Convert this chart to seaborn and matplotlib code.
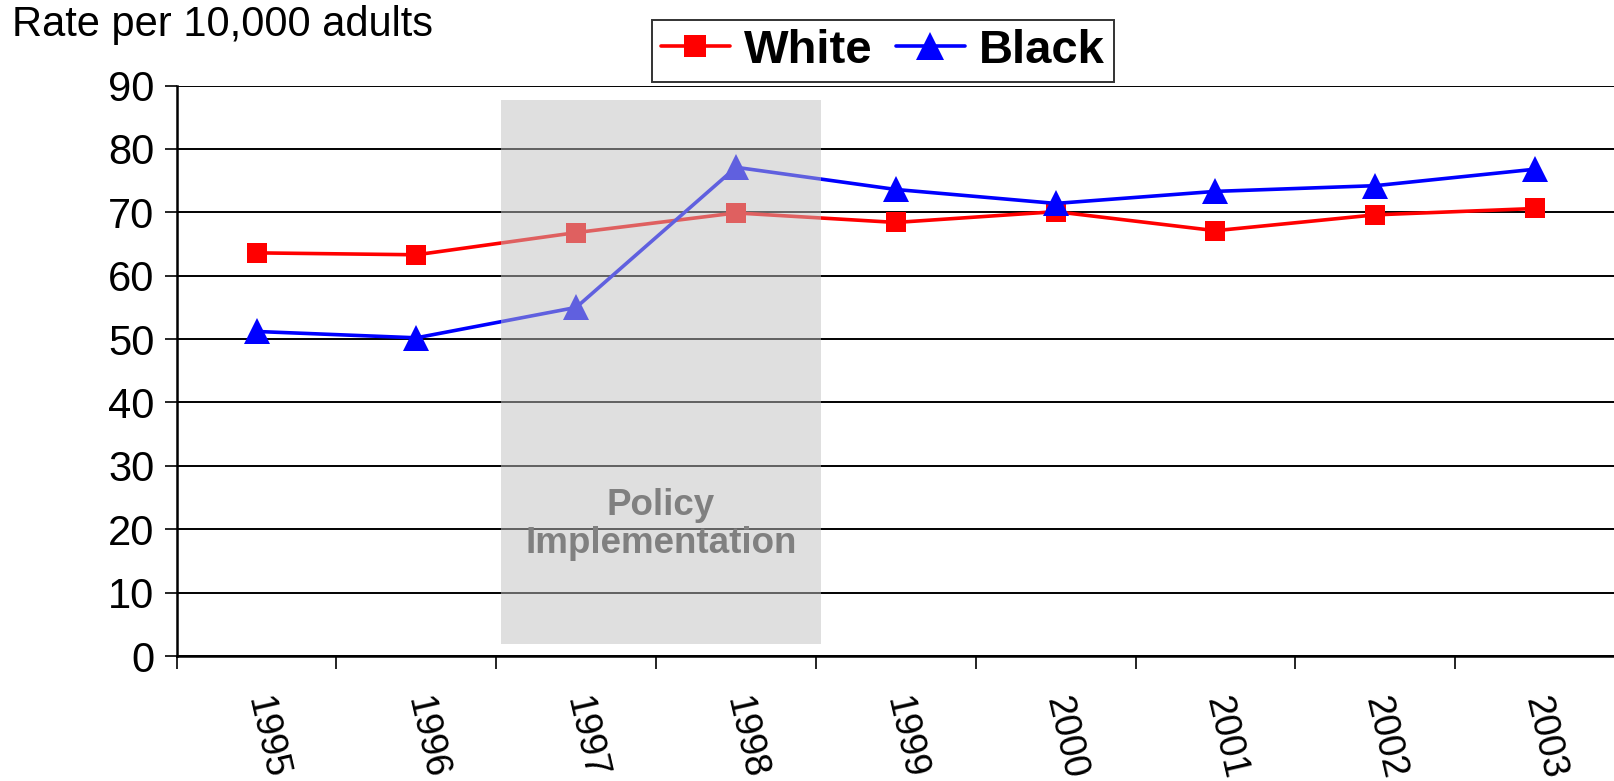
import matplotlib
matplotlib.use("Agg")
import matplotlib.pyplot as plt
import matplotlib.patches as mpatches
from matplotlib.lines import Line2D
from matplotlib.ticker import FixedLocator, NullFormatter
import seaborn as sns
import pandas as pd

# Hospitalisation rates per 10,000 adults by year
years = [1995, 1996, 1997, 1998, 1999, 2000, 2001, 2002, 2003]
white = [63.6, 63.3, 66.8, 69.9, 68.4, 70.1, 67.1, 69.6, 70.6]
black = [51.2, 50.2, 55.0, 77.1, 73.6, 71.4, 73.3, 74.2, 76.8]
y_ticks = [0, 10, 20, 30, 40, 50, 60, 70, 80, 90]

# Policy implementation window (in year units) and its label
policy_start, policy_end = 1996.53, 1998.53
policy_label = "Policy\nImplementation"

sns.set_style("white")
plt.rcParams["font.family"] = ["Liberation Sans", "DejaVu Sans"]
plt.rcParams["text.color"] = "black"
plt.rcParams["xtick.color"] = "black"
plt.rcParams["ytick.color"] = "black"

fig = plt.figure(figsize=(16.15, 7.81), dpi=100)
ax = fig.add_axes([0.1094, 0.16, 0.8906, 0.7305])

df_w = pd.DataFrame({"Year": years, "Rate": white})
df_b = pd.DataFrame({"Year": years, "Rate": black})

sns.lineplot(data=df_w, x="Year", y="Rate", ax=ax, color="#FF0000", lw=2.6,
             marker="s", markersize=14, markeredgewidth=0, zorder=3)
sns.lineplot(data=df_b, x="Year", y="Rate", ax=ax, color="#0000FF", lw=2.6,
             marker="^", markersize=19, markeredgewidth=0, zorder=3)

# translucent shaded band over the policy years
ax.add_patch(mpatches.Rectangle((policy_start, 1.9), policy_end - policy_start, 87.7 - 1.9,
                                facecolor=(0.753, 0.753, 0.753), alpha=0.5,
                                edgecolor="none", zorder=4))
ax.text((policy_start + policy_end) / 2, 20.8, policy_label, ha="center", va="center",
        fontsize=26.5, fontweight="bold", color="#808080", linespacing=1.12, zorder=5)

ax.set_xlim(years[0] - 0.5, years[-1] + 0.5)
ax.set_ylim(0, 90)
ax.set_yticks(y_ticks)
ax.set_yticklabels([str(v) for v in y_ticks])

# major ticks between years (marks only), minor ticks carry the year labels
ax.xaxis.set_major_locator(FixedLocator([y - 0.5 for y in years]))
ax.xaxis.set_major_formatter(NullFormatter())
ax.set_xticks(years, minor=True)
ax.set_xticklabels([str(y) for y in years], minor=True)
ax.tick_params(axis="x", which="major", direction="out", length=9, width=1.2,
               color="black", bottom=True)
ax.tick_params(axis="x", which="minor", length=0, pad=29, labelsize=27)
for lab in ax.get_xticklabels(minor=True):
    lab.set_rotation(-77)
    lab.set_rotation_mode("anchor")
    lab.set_ha("left")
    lab.set_va("center")
ax.tick_params(axis="y", direction="out", length=9, width=1.2, color="black",
               left=True, labelsize=30, pad=7)

ax.yaxis.grid(True, color="black", lw=1.4, zorder=1)
ax.xaxis.grid(False)
ax.set_axisbelow(True)
for side in ("top", "right"):
    ax.spines[side].set_visible(False)
for side in ("left", "bottom"):
    ax.spines[side].set_color("black")
    ax.spines[side].set_linewidth(1.8)
ax.set_xlabel("")
ax.set_ylabel("")

fig.text(0.0075, 0.993, "Rate per 10,000 adults", ha="left", va="top", fontsize=30)

handles = [
    Line2D([], [], color="#FF0000", lw=2.6, marker="s", markersize=16, markeredgewidth=0),
    Line2D([], [], color="#0000FF", lw=2.6, marker="^", markersize=20, markeredgewidth=0),
]
leg = ax.legend(handles, ["White", "Black"], loc="center", bbox_to_anchor=(0.5467, 0.9347),
                bbox_transform=fig.transFigure, ncol=2, frameon=True, fancybox=False,
                handlelength=1.45, handletextpad=0.3, columnspacing=0.5, borderpad=0.2,
                prop={"weight": "bold", "size": 34})
leg.get_frame().set_edgecolor("black")
leg.get_frame().set_linewidth(1.4)
leg.set_zorder(10)

fig.savefig("out.png", dpi=100)
